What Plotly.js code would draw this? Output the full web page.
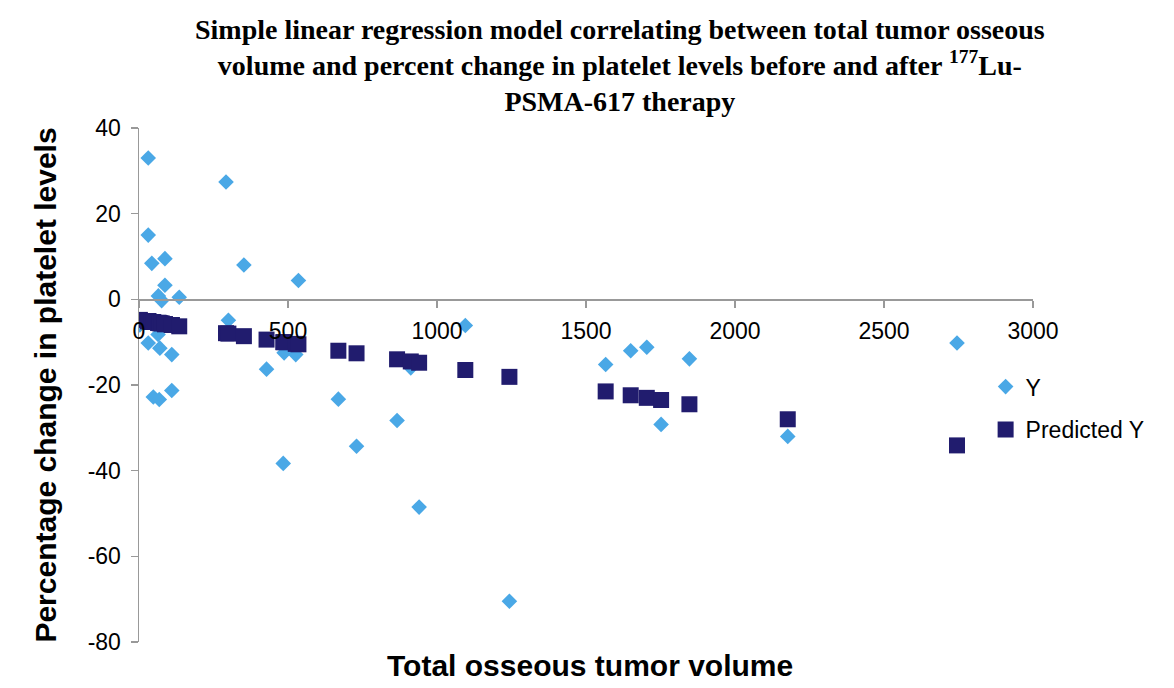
<!DOCTYPE html>
<html>
<head>
<meta charset="utf-8">
<script src="https://cdn.plot.ly/plotly-3.0.1.min.js"></script>
<style>html,body{margin:0;padding:0;background:#fff;}#chart{width:1174px;height:688px;}</style>
</head>
<body>
<div id="chart"></div>
<script>
// Total osseous tumor volume (x) for each patient
const tumorVolume = [3, 31, 31, 31, 43, 48, 64, 65, 68, 70, 76, 87, 87, 110, 110, 135,
  292, 300, 352, 428, 484, 487, 526, 535, 669, 730, 866, 912, 940, 1095, 1243,
  1566, 1650, 1704, 1752, 1847, 2177, 2745];
// Observed percentage change in platelet levels (Y)
const observedY = [-6, 33.0, 15.0, -10.2, 8.4, -22.8, -8.2, 0.8, -23.4, -11.4, -0.3, 9.5, 3.3, -12.9, -21.3, 0.5,
  27.4, -4.9, 8.0, -16.3, -38.3, -12.5, -12.9, 4.4, -23.3, -34.3, -28.3, -16.0, -48.5, -6.1, -70.5,
  -15.2, -12.0, -11.2, -29.2, -13.9, -32.0, -10.2];
// Predicted Y from the regression model
const predictedY = [-4.8, -5.1, -5.1, -5.1, -5.3, -5.3, -5.5, -5.5, -5.5, -5.6, -5.6, -5.8, -5.8, -6.0, -6.0, -6.3,
  -7.9, -8.0, -8.6, -9.4, -10.0, -10.0, -10.4, -10.5, -12.0, -12.6, -14.0, -14.5, -14.8, -16.5, -18.1,
  -21.5, -22.4, -23.0, -23.5, -24.5, -28.0, -34.1];

const xTicks = [0, 500, 1000, 1500, 2000, 2500, 3000];
const yTicks = [-80, -60, -40, -20, 0, 20, 40];

const traces = [
  {
    x: tumorVolume, y: observedY, name: 'Y', type: 'scatter', mode: 'markers',
    legendgroup: 'a',
    marker: {symbol: 'diamond', size: 12, color: '#4AA8E6'}
  },
  {
    x: tumorVolume, y: predictedY, name: 'Predicted Y', type: 'scatter', mode: 'markers',
    legendgroup: 'b',
    marker: {symbol: 'square', size: 16, color: '#211C6E'}
  }
];

const layout = {
  width: 1174, height: 688,
  paper_bgcolor: '#fff', plot_bgcolor: '#fff',
  margin: {l: 139, r: 141, t: 128, b: 46},
  font: {family: 'Liberation Sans, Arial, sans-serif', color: '#000', size: 23},
  title: {
    text: 'Simple linear regression model correlating between total tumor osseous<br>volume and percent change in platelet levels before and after <sup>177</sup>Lu-<br>PSMA-617 therapy',
    font: {family: 'Liberation Serif, Times New Roman, serif', size: 28, color: '#000', weight: 'bold'},
    xref: 'container', x: 0.528, xanchor: 'center',
    yref: 'container', y: 0.944, yanchor: 'top'
  },
  xaxis: {
    range: [0, 3000], tickvals: xTicks, ticktext: xTicks.map(String),
    anchor: 'free', position: 2/3,
    showline: true, linecolor: '#999', linewidth: 1.5,
    ticks: 'outside', ticklen: 7, tickcolor: '#999', tickwidth: 1.5,
    ticklabelstandoff: 4,
    showgrid: false, zeroline: false,
    tickfont: {size: 23, color: '#000'}
  },
  yaxis: {
    range: [-80, 40], tickvals: yTicks, ticktext: yTicks.map(String),
    showline: true, linecolor: '#999', linewidth: 1.5,
    ticks: 'outside', ticklen: 7, tickcolor: '#999', tickwidth: 1.5,
    ticklabelstandoff: 5,
    showgrid: false, zeroline: false,
    tickfont: {size: 23, color: '#000'},
    title: {text: 'Percentage change in platelet levels', font: {size: 30, weight: 'bold', color: '#000'}, standoff: 22}
  },
  legend: {
    x: 0.947, xanchor: 'left', y: 0.455, yanchor: 'middle',
    font: {size: 23, color: '#000'},
    traceorder: 'grouped', tracegroupgap: 10,
    bgcolor: 'rgba(0,0,0,0)'
  },
  annotations: [{
    text: 'Total osseous tumor volume', showarrow: false,
    xref: 'paper', yref: 'paper', x: 0.505, y: -0.045, xanchor: 'center', yanchor: 'middle',
    font: {size: 30, weight: 'bold', color: '#000'}
  }],
  showlegend: true
};

Plotly.newPlot('chart', traces, layout, {displayModeBar: false, staticPlot: true});
</script>
</body>
</html>
